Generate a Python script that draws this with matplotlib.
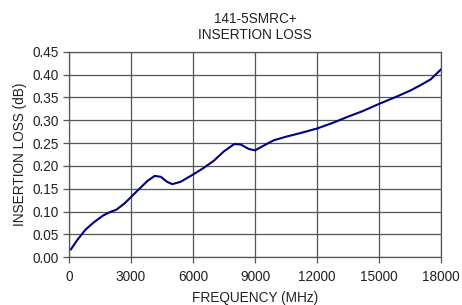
import matplotlib
matplotlib.use('Agg')
import matplotlib.pyplot as plt

plt.rcParams['font.family'] = ['Liberation Sans', 'DejaVu Sans']

freq = [100, 400, 800, 1200, 1650, 2000, 2300, 2700, 3300, 3800, 4150, 4450,
        4750, 5000, 5400, 6000, 6500, 7000, 7500, 8000, 8300, 8700, 9000,
        9400, 9900, 10500, 11200, 12000, 12800, 13500, 14200, 15000, 15800,
        16500, 17000, 17500, 18000]
loss = [0.017, 0.037, 0.060, 0.076, 0.091, 0.099, 0.104, 0.118, 0.145, 0.167,
        0.178, 0.176, 0.165, 0.160, 0.165, 0.181, 0.195, 0.211, 0.232, 0.248,
        0.247, 0.237, 0.234, 0.244, 0.256, 0.264, 0.272, 0.282, 0.295, 0.308,
        0.320, 0.336, 0.351, 0.365, 0.377, 0.390, 0.412]

xticks = [0, 3000, 6000, 9000, 12000, 15000, 18000]
yticks = [0.00, 0.05, 0.10, 0.15, 0.20, 0.25, 0.30, 0.35, 0.40, 0.45]

fig = plt.figure(figsize=(4.62, 3.05), dpi=100)
ax = fig.add_axes([0.149, 0.157, 0.806, 0.673])

ax.plot(freq, loss, color='#000080', linewidth=1.5, solid_joinstyle='round')

ax.set_xlim(0, 18000)
ax.set_ylim(0, 0.45)
ax.set_xticks(xticks)
ax.set_yticks(yticks)
ax.set_yticklabels([f'{v:.2f}' for v in yticks])
ax.grid(True, color='#555555', linewidth=0.9)
ax.set_axisbelow(True)
for s in ax.spines.values():
    s.set_color('#555555')
    s.set_linewidth(0.9)
ax.tick_params(direction='out', length=4, width=0.9, color='#555555',
               labelsize=9.8, labelcolor='#222222', pad=3)
ax.tick_params(axis='x', pad=5)

ax.set_xlabel('FREQUENCY (MHz)', fontsize=9.8, color='#222222', labelpad=5)
ax.set_ylabel('INSERTION LOSS (dB)', fontsize=9.8, color='#222222', labelpad=4)
ax.set_title('141-5SMRC+\nINSERTION LOSS', fontsize=9.8, color='#222222',
             linespacing=1.25, pad=9)

fig.savefig('out.png', dpi=100)
